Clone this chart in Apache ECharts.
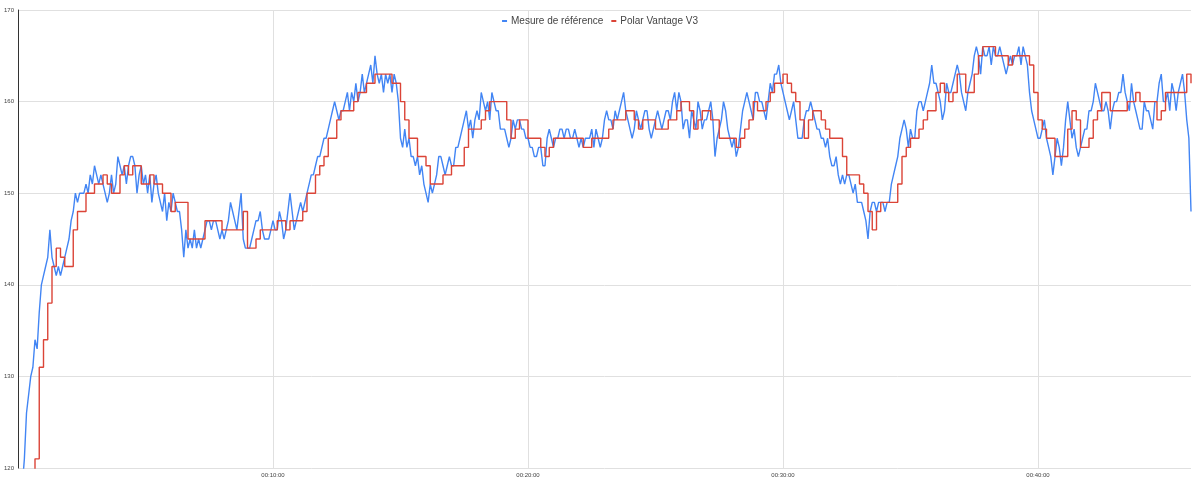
<!DOCTYPE html>
<html><head><meta charset="utf-8">
<script src="https://cdn.jsdelivr.net/npm/echarts@6/dist/echarts.min.js"></script>
<style>html,body{margin:0;padding:0;background:#fff}#c{width:1200px;height:483px}</style>
</head><body><div id="c"></div>
<script>
// sampling steps (seconds)
const blueStepSec = 5;
const redStepSec = 10;
// "Mesure de référence" (bpm), one value every 5 s
const blueValues = [
112,115,118,121,126,128,130,131,134,133,137,140,
141,142,143,146,143,142,141,142,141,142,143,144,
145,147,148,150,149,150,150,150,151,150,152,151,
153,152,151,152,151,150,149,150,152,150,151,154,
153,152,153,151,153,154,154,153,150,152,153,151,
152,150,152,149,151,152,150,149,148,150,147,149,
148,150,149,148,148,146,143,146,144,145,144,146,
144,145,144,145,146,147,147,146,147,147,146,145,
146,145,146,147,149,148,147,146,148,150,145,144,
144,144,145,146,147,147,148,146,145,145,145,146,
147,146,146,148,147,145,146,148,150,148,146,147,
148,149,148,149,150,151,152,152,153,154,154,155,
156,156,157,158,159,160,159,158,159,159,160,161,
159,161,160,162,160,161,163,161,162,163,164,162,
165,163,162,163,161,163,162,163,161,163,162,160,
156,155,157,155,156,154,154,153,154,152,153,151,
150,149,151,150,151,152,154,154,153,152,153,154,
153,153,155,155,156,157,158,159,157,158,156,158,
159,158,161,160,159,160,158,161,160,159,159,157,
157,157,156,155,156,158,157,158,158,157,157,156,
156,155,155,154,154,155,155,153,153,156,157,156,
155,156,156,157,157,156,157,157,156,156,157,156,
155,156,155,156,156,156,157,155,157,156,155,156,
158,159,158,158,157,159,158,159,160,161,159,158,
157,156,157,159,158,157,158,159,159,157,156,157,
158,159,158,157,158,159,159,158,160,161,159,161,
160,157,158,158,156,159,158,157,160,159,157,158,
158,159,160,158,154,156,157,158,160,159,157,156,
155,156,154,155,157,159,160,161,160,159,158,161,
161,160,160,159,158,160,162,161,163,163,164,162,
161,160,159,158,159,160,158,156,156,156,158,159,
159,160,159,158,157,157,156,156,155,156,154,153,
153,154,152,151,152,151,152,152,151,150,151,149,
149,149,148,147,145,148,149,149,148,149,149,149,
148,149,149,151,152,153,154,156,157,158,157,155,
157,156,156,159,160,160,159,160,161,162,164,162,
162,161,160,158,159,162,161,161,162,163,164,163,
161,160,159,161,162,163,165,166,165,163,166,165,
165,166,164,166,165,165,166,165,164,163,164,165,
164,165,165,166,164,166,165,164,161,159,158,157,
156,156,157,158,156,155,154,152,154,156,155,153,
155,158,160,158,156,157,155,154,155,156,157,157,
159,159,160,162,161,160,159,159,160,159,157,159,
160,160,161,161,163,161,160,159,162,160,159,158,
157,157,160,159,159,158,157,160,160,162,163,160,
160,161,159,162,161,159,161,162,163,161,158,156,
148
];
// "Polar Vantage V3" (bpm), one value every 10 s
const redValues = [
95,100,105,112,121,131,
134,138,142,144,143,142,
142,146,148,148,150,150,
151,151,152,151,150,150,
152,153,152,153,153,151,
151,152,151,151,150,150,
148,149,149,149,145,145,
145,145,147,147,147,147,
146,146,146,146,146,148,
144,144,145,146,146,146,
146,147,147,146,147,147,
147,148,150,150,152,153,
154,156,156,158,159,159,
159,160,161,161,162,162,
163,163,163,163,162,162,
160,158,156,156,154,154,
153,151,151,151,152,152,
153,153,153,155,157,157,
157,158,159,160,160,160,
160,158,156,157,158,158,
156,156,156,155,154,155,
156,156,156,156,156,156,
156,155,155,156,156,156,
156,157,158,158,158,159,
159,158,157,158,158,158,
157,157,157,158,158,159,
160,160,159,157,158,159,
159,158,158,156,156,156,
156,155,156,157,158,160,
159,159,160,161,162,162,
163,162,161,160,158,156,
158,159,159,158,157,156,
156,156,154,152,152,152,
151,150,148,146,148,149,
149,149,149,151,154,155,
156,156,157,158,159,159,
161,162,161,160,161,163,
163,161,161,163,165,166,
166,166,165,165,165,164,
165,165,165,165,164,161,
158,157,156,156,154,154,
154,157,159,158,155,155,
156,158,159,161,161,159,
159,159,159,160,160,161,
160,160,160,160,158,159,
161,161,161,161,161,163,
162
];
const seriesNames = ['Mesure de référence', 'Polar Vantage V3'];
const xTickLabels = ['', '00:10:00', '00:20:00', '00:30:00', '00:40:00'];
const xTickSec = 600;
const yMin = 120, yMax = 170, yStep = 10;

const blueData = blueValues.map((v, i) => [i * blueStepSec, v]);
const redData = redValues.map((v, i) => [i * redStepSec, v]);
const xMax = (redValues.length - 1) * redStepSec;

const chart = echarts.init(document.getElementById('c'), null, {renderer: 'canvas'});
chart.setOption({
  animation: false,
  backgroundColor: '#ffffff',
  textStyle: {fontFamily: '"Liberation Sans", Arial, sans-serif'},
  grid: {left: 18, right: 9, top: 10, bottom: 15, outerBoundsMode: 'none'},
  legend: {
    top: 11, left: 'center',
    icon: 'rect', itemWidth: 5, itemHeight: 2, itemGap: 8,
    textStyle: {fontSize: 10, color: '#444', padding: [0, 0, 0, -1]},
    data: seriesNames
  },
  xAxis: {
    type: 'value', min: 0, max: xMax, interval: xTickSec,
    axisLine: {show: false}, axisTick: {show: false},
    axisLabel: {
      fontSize: 6, color: '#444', margin: 4,
      formatter: v => (v % xTickSec === 0 ? (xTickLabels[v / xTickSec] || '') : '')
    },
    splitLine: {show: true, showMaxLine: false, lineStyle: {color: '#e0e0e0', width: 1}}
  },
  yAxis: {
    type: 'value', min: yMin, max: yMax, interval: yStep,
    axisLine: {show: true, lineStyle: {color: '#333', width: 1}},
    axisTick: {show: false},
    axisLabel: {fontSize: 6, color: '#444', margin: 4},
    splitLine: {show: true, lineStyle: {color: '#e0e0e0', width: 1}}
  },
  series: [
    {
      name: seriesNames[0], type: 'line', data: blueData, showSymbol: false,
      lineStyle: {color: '#4285F4', width: 1.4}, itemStyle: {color: '#4285F4'},
      clip: true
    },
    {
      name: seriesNames[1], type: 'line', data: redData, showSymbol: false, step: 'end',
      lineStyle: {color: '#DB4437', width: 1.4}, itemStyle: {color: '#DB4437'},
      clip: true
    }
  ]
});
</script>
</body></html>
